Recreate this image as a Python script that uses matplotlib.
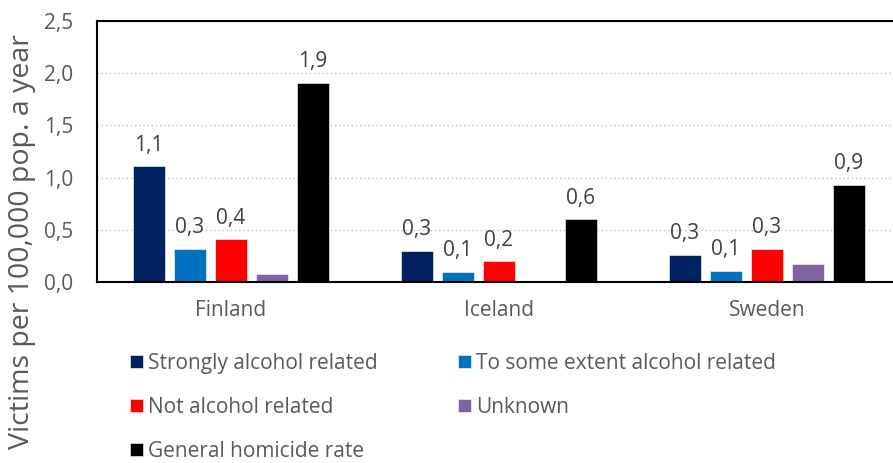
import numpy as np
import matplotlib.pyplot as plt

# data
countries = ["Finland", "Iceland", "Sweden"]
series_names = ["Strongly alcohol related", "To some extent alcohol related",
                "Not alcohol related", "Unknown", "General homicide rate"]
strongly = [1.11, 0.30, 0.26]
some_extent = [0.32, 0.10, 0.11]
not_related = [0.41, 0.20, 0.32]
unknown = [0.08, 0.0, 0.17]
general = [1.91, 0.60, 0.93]
show_labels = [True, True, True, False, True]

colors = ["#002060", "#0070C0", "#FF0000", "#8064A2", "#000000"]
txt = "#404040"
txt2 = "#595959"

plt.rcParams['font.family'] = ['Open Sans', 'DejaVu Sans']

fig = plt.figure(figsize=(8.93, 4.63), dpi=100)
ax = fig.add_axes([97 / 893, 1 - 282 / 463, 804 / 893, 261 / 463])

x = np.arange(len(countries))
step = 0.153
width = 0.12
handles = []
all_series = [strongly, some_extent, not_related, unknown, general]
for i, vals in enumerate(all_series):
    pos = x + (i - 2) * step
    vals = np.array(vals)
    b = ax.bar(pos, vals, width, color=colors[i], label=series_names[i],
               edgecolor="white", linewidth=0.4)
    handles.append(b)
    if show_labels[i]:
        for p, v in zip(pos, vals):
            ax.text(p, v + 0.1, f"{v:.1f}".replace(".", ","), ha="center",
                    va="bottom", fontsize=15, color=txt)

ax.set_xlim(-0.5, 2.5)
ax.set_ylim(0, 2.5)
ax.set_yticks(np.arange(0, 2.51, 0.5))
ax.set_yticklabels([f"{t:.1f}".replace(".", ",") for t in np.arange(0, 2.51, 0.5)])
ax.set_xticks(x)
ax.set_xticklabels(countries)
ax.tick_params(axis="both", length=0, labelsize=15, labelcolor=txt2)
ax.tick_params(axis="x", pad=13)
ax.tick_params(axis="y", pad=17)
ax.yaxis.grid(True, linestyle=(0, (1, 2)), color="#BFBFBF", linewidth=1)
ax.set_axisbelow(True)
for s in ["top", "left", "bottom"]:
    ax.spines[s].set_color("black")
    ax.spines[s].set_linewidth(1.5)
ax.spines["right"].set_visible(False)

fig.text(22 / 893, 1 - 242 / 463, "Victims per 100,000 pop. a year",
         rotation=90, ha="center", va="center", fontsize=20.5, color=txt2)

order = [0, 2, 4, 1, 3]
leg = fig.legend([handles[k] for k in order], [series_names[k] for k in order],
                 ncol=2, loc="upper left", bbox_to_anchor=(130 / 893, 1 - 353 / 463),
                 frameon=False, fontsize=15, handlelength=0.63, handleheight=0.63,
                 handletextpad=0.25, labelspacing=1.1, columnspacing=3.85,
                 borderpad=0, borderaxespad=0, labelcolor=txt2)

fig.savefig("out.png", dpi=100)
